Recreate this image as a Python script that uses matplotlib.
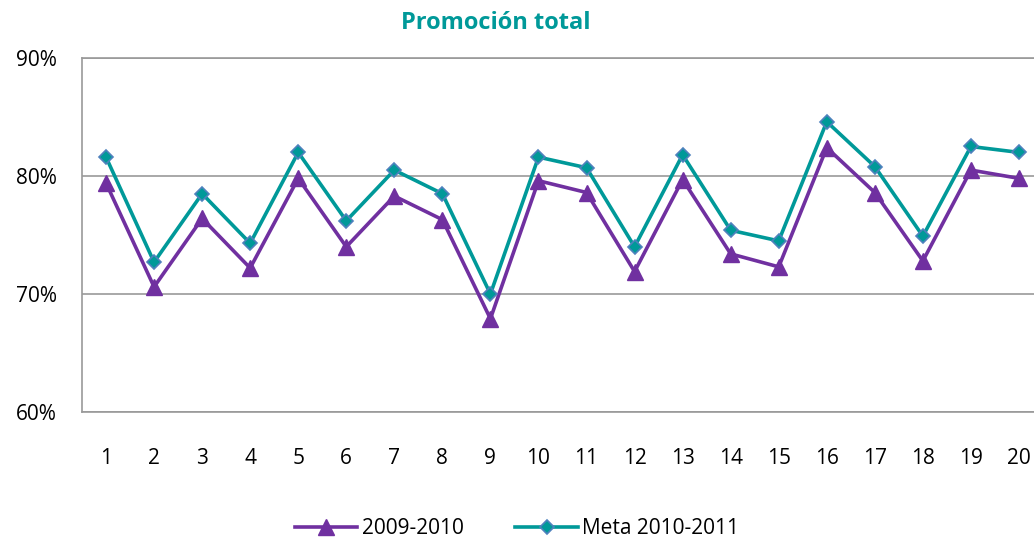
import matplotlib.pyplot as plt
from matplotlib.ticker import FuncFormatter

#########################################################
# Data
#########################################################

schools = list(range(1, 21))
promo_2009 = [79.4, 70.6, 76.4, 72.2, 79.8, 74.0, 78.3, 76.3, 67.9, 79.6,
              78.6, 71.9, 79.7, 73.4, 72.3, 82.4, 78.6, 72.8, 80.5, 79.8]
meta_2010 = [81.6, 72.7, 78.5, 74.3, 82.0, 76.2, 80.5, 78.5, 70.0, 81.6,
             80.7, 74.0, 81.8, 75.4, 74.5, 84.6, 80.8, 74.9, 82.5, 82.0]

PURPLE = '#7030A0'
TEAL = '#009999'
GRID = '#999999'

plt.rcParams['font.family'] = ['Open Sans', 'DejaVu Sans']

#########################################################
# Plot
#########################################################

fig = plt.figure(figsize=(10.34, 5.37), dpi=100)
ax = fig.add_axes([0.0793, 0.2328, 0.9294, 0.6592])

ax.plot(schools, promo_2009, color=PURPLE, lw=2.6, marker='^', ms=11,
        mfc=PURPLE, mec=PURPLE, label='2009-2010', zorder=3)
ax.plot(schools, meta_2010, color=TEAL, lw=2.6, marker='D', ms=7,
        mfc=TEAL, mec='#4F81BD', mew=1.2, label='Meta 2010-2011', zorder=4)

ax.set_xlim(0.5, 20.5)
ax.set_ylim(60, 90)
ax.set_xticks(schools)
ax.set_yticks([60, 70, 80, 90])
ax.yaxis.set_major_formatter(FuncFormatter(lambda v, p: f'{v:.0f}%'))
ax.tick_params(axis='both', length=0, labelsize=15)
ax.tick_params(axis='x', pad=26)
ax.tick_params(axis='y', pad=18)
ax.grid(axis='y', color=GRID, lw=1.2)
for s in ax.spines.values():
    s.set_color(GRID)
    s.set_linewidth(1.2)

fig.text(0.479, 0.958, 'Promoción total', color=TEAL, fontsize=17,
         fontweight='bold', ha='center', va='center')

fig.legend(loc='center', bbox_to_anchor=(0.5, 0.016), ncol=2, frameon=False,
           fontsize=15, handlelength=3, columnspacing=2.5, handletextpad=0.2)

fig.savefig('out.png', dpi=100)
